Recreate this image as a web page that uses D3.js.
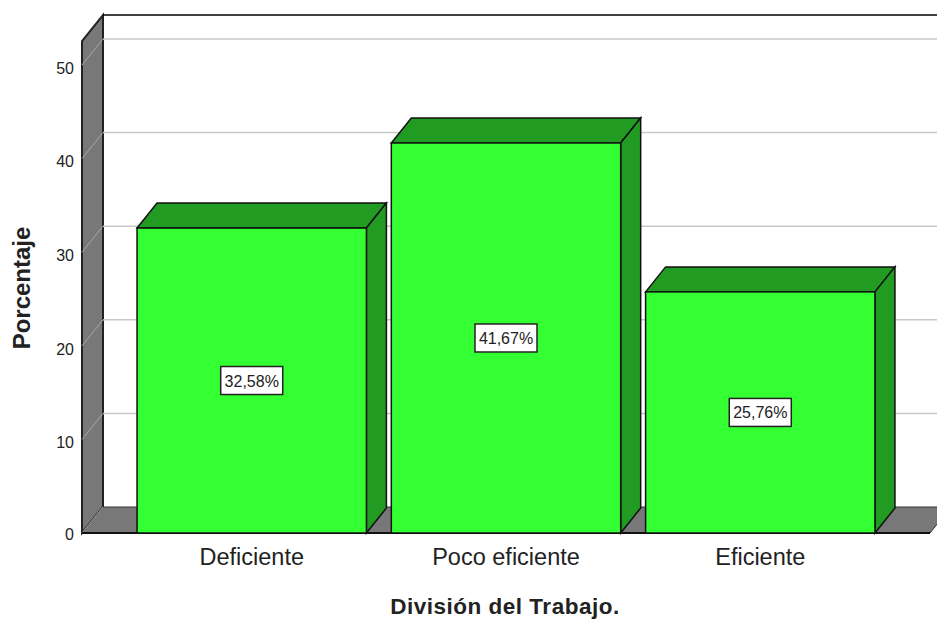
<!DOCTYPE html>
<html>
<head>
<meta charset="utf-8">
<script src="https://cdn.jsdelivr.net/npm/d3@7"></script>
<style>
html, body { margin: 0; padding: 0; background: #fff; overflow: hidden; }
text { font-family: "Liberation Sans", Arial, sans-serif; fill: #222; }
</style>
</head>
<body>
<div id="chart"></div>
<script>
const categories = ["Deficiente", "Poco eficiente", "Eficiente"];
const values = [32.58, 41.67, 25.76];
const labels = ["32,58%", "41,67%", "25,76%"];
const yTicks = [0, 10, 20, 30, 40, 50];
const yMax = 52.56;

const w = 937;
const h = 620;
// 3d offset of the back wall and of the bars
const dx = 21;
const dy = -26;
const barDx = 20;
const barDy = -25;

const svg = d3.select("#chart").append("svg").attr("width", w).attr("height", h);

const xScale = d3.scaleBand()
	.domain(categories)
	.range([82, 930])
	.paddingInner(0.098)
	.paddingOuter(0.2165);

const yScale = d3.scaleLinear().domain([0, 50]).range([533, 65]);

const x0 = xScale.range()[0];
const x1 = xScale.range()[1];
const y0 = yScale(0);
const yTop = yScale(yMax);

const poly = (pts) => pts.map((p) => p.join(",")).join(" ");

// side wall and floor
svg.append("polygon")
	.attr("points", poly([[x0, y0], [x0, yTop], [x0 + dx, yTop + dy], [x0 + dx, y0 + dy]]))
	.attr("fill", "#787878")
	.attr("stroke", "#222")
	.attr("stroke-width", 2);

svg.append("polygon")
	.attr("points", poly([[x0, y0], [x0 + dx, y0 + dy], [x1 + dx, y0 + dy], [x1, y0]]))
	.attr("fill", "#787878")
	.attr("stroke", "#333")
	.attr("stroke-width", 1);

// back wall top line
svg.append("line")
	.attr("x1", x0 + dx).attr("x2", w)
	.attr("y1", yTop + dy).attr("y2", yTop + dy)
	.attr("stroke", "#000")
	.attr("stroke-width", 1.5);

// gridlines
const gridTicks = yTicks.filter((d) => d > 0);
svg.append("g").selectAll("line")
	.data(gridTicks)
	.join("line")
	.attr("x1", x0 + dx).attr("x2", w)
	.attr("y1", (d) => yScale(d) + dy).attr("y2", (d) => yScale(d) + dy)
	.attr("stroke", "#c8c8c8")
	.attr("stroke-width", 1.5);

svg.append("g").selectAll("line")
	.data(yTicks)
	.join("line")
	.attr("x1", x0).attr("x2", x0 + dx)
	.attr("y1", (d) => yScale(d)).attr("y2", (d) => yScale(d) + dy)
	.attr("stroke", "#a8a8a8")
	.attr("stroke-width", 1);

// front edge of the floor
svg.append("line")
	.attr("x1", x0).attr("x2", x1)
	.attr("y1", y0).attr("y2", y0)
	.attr("stroke", "#111")
	.attr("stroke-width", 2);

// bars
const bars = svg.append("g").selectAll("g")
	.data(categories)
	.join("g");

bars.append("polygon")
	.attr("points", (d, i) => {
		const l = xScale(d), r = l + xScale.bandwidth(), t = yScale(values[i]);
		return poly([[l, t], [l + barDx, t + barDy], [r + barDx, t + barDy], [r, t]]);
	})
	.attr("fill", "#229b22")
	.attr("stroke", "#111")
	.attr("stroke-width", 1.5);

bars.append("polygon")
	.attr("points", (d, i) => {
		const r = xScale(d) + xScale.bandwidth(), t = yScale(values[i]);
		return poly([[r, t], [r + barDx, t + barDy], [r + barDx, y0 + barDy], [r, y0]]);
	})
	.attr("fill", "#229b22")
	.attr("stroke", "#111")
	.attr("stroke-width", 1.5);

bars.append("rect")
	.attr("x", (d) => xScale(d))
	.attr("y", (d, i) => yScale(values[i]))
	.attr("width", xScale.bandwidth())
	.attr("height", (d, i) => y0 - yScale(values[i]))
	.attr("fill", "#33ff33")
	.attr("stroke", "#111")
	.attr("stroke-width", 1.5);

// value labels in the middle of the bars
const labelG = bars.append("g")
	.attr("transform", (d, i) => `translate(${xScale(d) + xScale.bandwidth() / 2}, ${yScale(values[i] / 2)})`);

labelG.append("rect")
	.attr("x", -31).attr("y", -14)
	.attr("width", 62).attr("height", 28)
	.attr("fill", "#fff")
	.attr("stroke", "#222")
	.attr("stroke-width", 1.5);

labelG.append("text")
	.attr("text-anchor", "middle")
	.attr("y", 6)
	.attr("font-size", 16)
	.text((d, i) => labels[i]);

// y axis, labels sit a little under their gridline
const yAxis = d3.axisLeft(yScale).tickValues(yTicks).tickSize(0).tickPadding(8);
const yAxisG = svg.append("g")
	.attr("transform", `translate(${x0}, 0)`)
	.call(yAxis);
yAxisG.select(".domain").remove();
yAxisG.selectAll("text")
	.attr("font-size", 16)
	.attr("font-family", '"Liberation Sans", Arial, sans-serif')
	.attr("dy", (d) => (d === 0 ? "0.42em" : "0.52em"));

// x axis
const xAxis = d3.axisBottom(xScale).tickSize(0).tickPadding(15);
const xAxisG = svg.append("g")
	.attr("transform", `translate(0, ${y0})`)
	.call(xAxis);
xAxisG.select(".domain").remove();
xAxisG.selectAll("text")
	.attr("font-size", 23.5)
	.attr("fill", "#333")
	.attr("font-family", '"Liberation Sans", Arial, sans-serif');

// axis titles
svg.append("text")
	.attr("x", 505).attr("y", 614)
	.attr("text-anchor", "middle")
	.attr("font-size", 22.5)
	.attr("letter-spacing", 0.5)
	.attr("font-weight", "bold")
	.text("División del Trabajo.");

svg.append("text")
	.attr("transform", "translate(30, 288) rotate(-90)")
	.attr("text-anchor", "middle")
	.attr("font-size", 24)
	.attr("font-weight", "bold")
	.text("Porcentaje");
</script>
</body>
</html>
